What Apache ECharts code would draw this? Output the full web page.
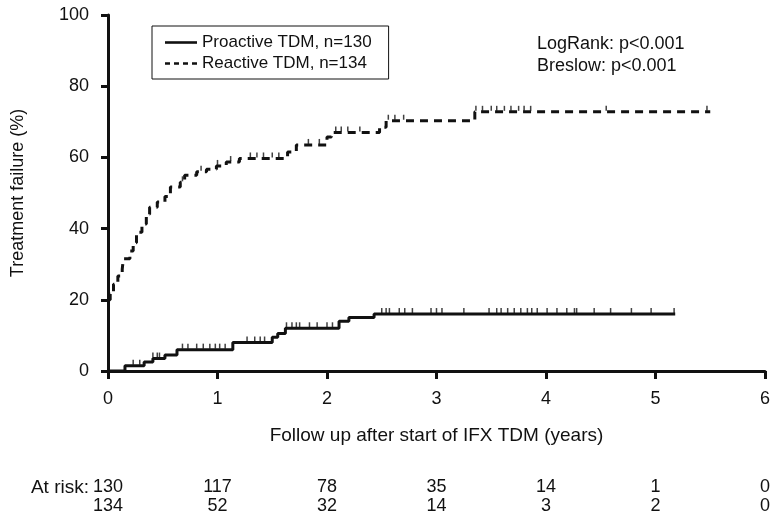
<!DOCTYPE html>
<html>
<head>
<meta charset="utf-8">
<script src="https://cdn.jsdelivr.net/npm/echarts@6/dist/echarts.min.js"></script>
<style>
html,body{margin:0;padding:0;background:#fff;}
#chart{width:773px;height:520px;}
</style>
</head>
<body>
<div id="chart"></div>
<script>
// ---- data ----
const xTicks = [0, 1, 2, 3, 4, 5, 6];
const yTicks = [0, 20, 40, 60, 80, 100];

// Proactive TDM (solid) step curve: event times (years) and cumulative failure (%)
const proTimes = [0, 0.155, 0.33, 0.41, 0.52, 0.63, 1.14, 1.5, 1.55, 1.62, 2.11, 2.2, 2.43, 5.18];
const proFail  = [0, 1.5, 2.5, 3.5, 4.5, 6, 8, 9.5, 10.5, 12, 14, 15, 16, 16];
const proCensor = [0.23, 0.29, 0.41, 0.45, 0.47, 0.68, 0.73, 0.81, 0.87, 0.93, 0.98, 1.02, 1.07,
  1.27, 1.34, 1.39, 1.43, 1.63, 1.68, 1.72, 1.75, 1.84, 1.91, 2.0, 2.05,
  2.5, 2.54, 2.57, 2.66, 2.71, 2.78, 2.95, 3.0, 3.05, 3.25, 3.48, 3.55, 3.59, 3.65, 3.71,
  3.77, 3.83, 3.87, 3.92, 4.01, 4.1, 4.19, 4.26, 4.28, 4.44, 4.59, 4.78, 4.96, 5.17];

// Reactive TDM (dashed) step curve
const reTimes = [0, 0.02, 0.05, 0.09, 0.13, 0.14, 0.2, 0.23, 0.26, 0.31, 0.35, 0.38, 0.45, 0.52,
  0.57, 0.66, 0.7, 0.81, 0.9, 0.99, 1.08, 1.2, 1.64, 1.72, 2.0, 2.04, 2.48, 2.54, 3.35, 5.5];
const reFail  = [20, 21.6, 24.4, 26.7, 28.6, 31.5, 33.7, 36, 39, 41.3, 44, 46, 47.5, 49,
  51.7, 53, 55, 56, 56.7, 57.6, 58.7, 59.7, 61.5, 63.5, 65.7, 67, 68.5, 70.3, 72.8, 72.8];
const reCensor = [0.68, 0.85, 1.0, 1.12, 1.3, 1.36, 1.42, 1.5, 1.56, 1.83, 1.93, 2.08, 2.13,
  2.19, 2.3, 2.56, 2.62, 2.7, 3.36, 3.42, 3.5, 3.55, 3.62, 3.68, 3.75, 3.8, 3.86, 4.55, 5.47];

// numbers at risk
const atRiskPro = [130, 117, 78, 35, 14, 1, 0];
const atRiskRe  = [134, 52, 32, 14, 3, 2, 0];

const nameA = 'Proactive TDM, n=130';
const nameB = 'Reactive TDM, n=134';

// ---- build ----
function stepValue(times, vals, t) {
  let v = vals[0];
  for (let i = 0; i < times.length; i++) { if (times[i] <= t) v = vals[i]; }
  return v;
}
const proLine = proTimes.map((t, i) => [t, proFail[i]]);
const reLine = reTimes.map((t, i) => [t, reFail[i]]);
const proMarks = proCensor.map(t => [t, stepValue(proTimes, proFail, t)]);
const reMarks = reCensor.map(t => [t, stepValue(reTimes, reFail, t)]);

const FONT = 'Liberation Sans, Arial, Helvetica, sans-serif';
const INK = '#111';
const ICON_SOLID = 'path://M0,0H32V2.6H0Z';
const ICON_DASH = 'path://M0,0H5V2.6H0Z M9,0H14V2.6H9Z M18,0H23V2.6H18Z M27,0H32V2.6H27Z';

const chart = echarts.init(document.getElementById('chart'), null, {renderer: 'canvas'});
chart.setOption({
  backgroundColor: '#fff',
  animation: false,
  grid: {left: 108, right: 7, top: 15, bottom: 149, containLabel: false},
  legend: {
    data: [{name: nameA, icon: ICON_SOLID}, {name: nameB, icon: ICON_DASH}],
    orient: 'vertical',
    left: 152, top: 26,
    padding: [8, 17, 7, 13],
    itemWidth: 32, itemHeight: 2.6, itemGap: 4,
    itemStyle: {color: INK, borderWidth: 0},
    borderColor: INK, borderWidth: 1, borderRadius: 0,
    textStyle: {fontFamily: FONT, fontSize: 17, color: INK, lineHeight: 16},
    selectedMode: false
  },
  xAxis: [{
    type: 'value', min: 0, max: 6, interval: 1,
    name: 'Follow up after start of IFX TDM (years)',
    nameLocation: 'middle', nameGap: 55,
    nameTextStyle: {fontFamily: FONT, fontSize: 19, color: INK},
    axisLine: {show: true, onZero: false, lineStyle: {color: INK, width: 3}},
    axisTick: {show: true, length: 8, inside: false, lineStyle: {color: INK, width: 3}},
    axisLabel: {fontFamily: FONT, fontSize: 18, color: INK, margin: 19,
      formatter: v => String(xTicks[Math.round(v)])},
    splitLine: {show: false}
  }, {
    type: 'value', min: 0, max: 6, interval: 1, position: 'bottom', offset: 100,
    axisLine: {show: false}, axisTick: {show: false}, splitLine: {show: false},
    axisLabel: {fontFamily: FONT, fontSize: 18, color: INK, margin: 7, lineHeight: 19,
      showMinLabel: true, showMaxLabel: true,
      formatter: v => { const i = Math.round(v); return atRiskPro[i] + '\n' + atRiskRe[i]; }}
  }],
  yAxis: {
    type: 'value', min: 0, max: 100, interval: 20,
    name: 'Treatment failure (%)',
    nameLocation: 'middle', nameGap: 81, nameRotate: 90,
    nameTextStyle: {fontFamily: FONT, fontSize: 18, color: INK},
    axisLine: {show: true, onZero: false, lineStyle: {color: INK, width: 3}},
    axisTick: {show: true, length: 7, inside: false, lineStyle: {color: INK, width: 3}},
    axisLabel: {fontFamily: FONT, fontSize: 18, color: INK, margin: 19,
      formatter: v => String(yTicks[Math.round(v / 20)])},
    splitLine: {show: false}
  },
  graphic: [
    {type: 'text', left: 537, top: 35, style: {text: 'LogRank: p<0.001', font: '18px ' + FONT, fill: INK}},
    {type: 'text', left: 537, top: 57, style: {text: 'Breslow: p<0.001', font: '18px ' + FONT, fill: INK}},
    {type: 'text', right: 773 - 89, top: 478, style: {text: 'At risk:', font: '19px ' + FONT, fill: INK}}
  ],
  series: [
    {
      name: nameA, type: 'line', step: 'end', data: proLine, symbol: 'none',
      xAxisIndex: 0, yAxisIndex: 0,
      lineStyle: {color: INK, width: 3, type: 'solid'}, itemStyle: {color: INK}, z: 3
    },
    {
      name: nameB, type: 'line', step: 'end', data: reLine, symbol: 'none',
      xAxisIndex: 0, yAxisIndex: 0,
      lineStyle: {color: INK, width: 3, type: [8, 6]}, itemStyle: {color: INK}, z: 3
    },
    {
      name: 'pro-censor', type: 'scatter', data: proMarks, symbol: 'rect',
      symbolSize: [1.5, 5], symbolOffset: [0, -3.5], itemStyle: {color: INK}, silent: true, z: 4
    },
    {
      name: 're-censor', type: 'scatter', data: reMarks, symbol: 'rect',
      symbolSize: [1.5, 5], symbolOffset: [0, -3.5], itemStyle: {color: INK}, silent: true, z: 4
    }
  ]
});
</script>
</body>
</html>
